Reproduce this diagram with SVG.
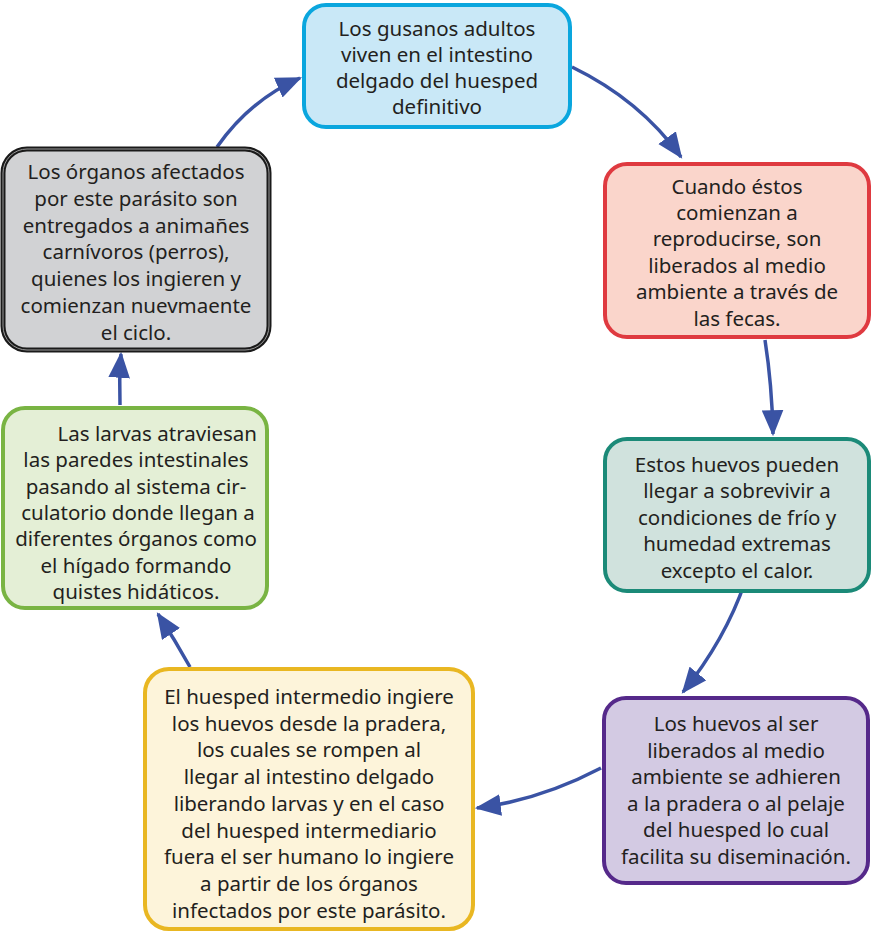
<svg xmlns="http://www.w3.org/2000/svg" width="872" height="932" viewBox="0 0 872 932">
<defs>
<marker id="ah" markerUnits="userSpaceOnUse" markerWidth="26" markerHeight="22" refX="22" refY="10" orient="auto" viewBox="0 0 24 20">
<path d="M0,0 L24,10 L0,20 Z" fill="#3a53a4"/>
</marker>
</defs>
<style>
.t{font-family:"Noto Sans","Open Sans","Liberation Sans",sans-serif;font-size:20.5px;fill:#231f20;text-anchor:middle}
.box{stroke-width:4}
.c{fill:none;stroke:#3a53a4;stroke-width:3.5;marker-end:url(#ah)}
</style>
<g id="connectors">
<path class="c" d="M217,147 Q250,100 300,78"/>
<path class="c" d="M572,67 Q640,100 681,157"/>
<path class="c" d="M765,340 Q772,385 773,434"/>
<path class="c" d="M745,582 Q725,640 683,692"/>
<path class="c" d="M601,768 Q540,800 477,808"/>
<path class="c" d="M190,667 Q175,640 158,614"/>
<path class="c" d="M120,405 Q119,380 121,354"/>
</g>
<g id="n1">
<rect class="box" x="304" y="5" width="266" height="122" rx="22" fill="#c9e8f7" stroke="#0aa6de"/>
<text class="t" x="437" y="36">Los gusanos adultos</text>
<text class="t" x="437" y="62">viven en el intestino</text>
<text class="t" x="437" y="88">delgado del huesped</text>
<text class="t" x="437" y="114">definitivo</text>
</g>
<g id="n2">
<rect class="box" x="605" y="164" width="264" height="173" rx="22" fill="#fad5cb" stroke="#df3a40"/>
<text class="t" x="737" y="194">Cuando éstos</text>
<text class="t" x="737" y="220">comienzan a</text>
<text class="t" x="737" y="246">reproducirse, son</text>
<text class="t" x="737" y="273">liberados al medio</text>
<text class="t" x="737" y="299">ambiente a través de</text>
<text class="t" x="737" y="326">las fecas.</text>
</g>
<g id="n3">
<rect class="box" x="605" y="439" width="264" height="152" rx="22" fill="#d0e2dd" stroke="#1b8a78"/>
<text class="t" x="737" y="472">Estos huevos pueden</text>
<text class="t" x="737" y="498">llegar a sobrevivir a</text>
<text class="t" x="737" y="525">condiciones de frío y</text>
<text class="t" x="737" y="551">humedad extremas</text>
<text class="t" x="737" y="578">excepto el calor.</text>
</g>
<g id="n4">
<rect class="box" x="604" y="698" width="264" height="185" rx="22" fill="#d3cae3" stroke="#55298a"/>
<text class="t" x="736" y="731">Los huevos al ser</text>
<text class="t" x="736" y="758">liberados al medio</text>
<text class="t" x="736" y="784">ambiente se adhieren</text>
<text class="t" x="736" y="811">a la pradera o al pelaje</text>
<text class="t" x="736" y="837">del huesped lo cual</text>
<text class="t" x="736" y="864">facilita su diseminación.</text>
</g>
<g id="n5">
<rect class="box" x="145" y="669" width="328" height="260" rx="24" fill="#fdf4da" stroke="#e9b722"/>
<text class="t" x="309" y="704">El huesped intermedio ingiere</text>
<text class="t" x="309" y="731">los huevos desde la pradera,</text>
<text class="t" x="309" y="757">los cuales se rompen al</text>
<text class="t" x="309" y="784">llegar al intestino delgado</text>
<text class="t" x="309" y="811">liberando larvas y en el caso</text>
<text class="t" x="309" y="838">del huesped intermediario</text>
<text class="t" x="309" y="864">fuera el ser humano lo ingiere</text>
<text class="t" x="309" y="891">a partir de los órganos</text>
<text class="t" x="309" y="918">infectados por este parásito.</text>
</g>
<g id="n6">
<rect class="box" x="3" y="408" width="264" height="200" rx="22" fill="#e4efd6" stroke="#79b443"/>
<text class="t" x="257" y="441" style="text-anchor:end">Las larvas atraviesan</text>
<text class="t" x="136" y="467">las paredes intestinales</text>
<text class="t" x="136" y="494">pasando al sistema cir-</text>
<text class="t" x="138" y="520">culatorio donde llegan a</text>
<text class="t" x="136" y="546">diferentes órganos como</text>
<text class="t" x="136" y="573">el hígado formando</text>
<text class="t" x="136" y="599">quistes hidáticos.</text>
</g>
<g id="n7">
<rect x="3" y="149" width="266" height="201" rx="24" fill="#d1d2d4" stroke="#1a1a1a" stroke-width="5"/>
<rect x="3" y="149" width="266" height="201" rx="24" fill="none" stroke="#9a9a9a" stroke-width="1"/>
<text class="t" x="136" y="179">Los órganos afectados</text>
<text class="t" x="136" y="206">por este parásito son</text>
<text class="t" x="136" y="233">entregados a animañes</text>
<text class="t" x="136" y="259">carnívoros (perros),</text>
<text class="t" x="136" y="286">quienes los ingieren y</text>
<text class="t" x="136" y="313">comienzan nuevmaente</text>
<text class="t" x="136" y="340">el ciclo.</text>
</g>
</svg>
